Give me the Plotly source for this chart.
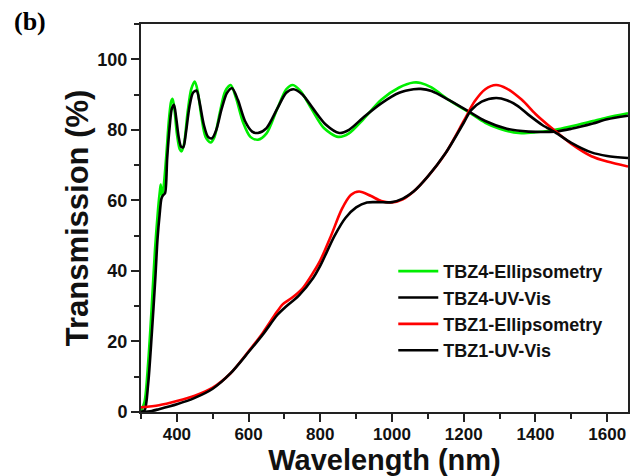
import plotly.graph_objects as go

# ---------------- data ----------------
tbz4_ell_wl = [300, 310, 320, 330, 339, 348, 353, 355, 358, 362, 370, 378, 384, 388, 393, 400, 408, 413,
               420, 430, 440, 450, 458, 468, 480, 494, 505, 520, 535, 550, 565, 585, 605, 626, 650, 680,
               705, 723, 745, 775, 810, 850, 880, 920, 970, 1020, 1060, 1080, 1110, 1158, 1214, 1260,
               1300, 1353, 1400, 1455, 1500, 1560, 1600, 1658]
tbz4_ell_t = [0.3, 3, 14, 30, 46, 58, 63, 64.5, 61.5, 63, 72, 83, 88, 88.8, 86, 79, 74.5, 73.9,
              76, 85, 91.5, 93.7, 91, 84, 78, 76.4, 78, 85, 91, 92.7, 89, 82, 78, 77.2, 79, 86,
              91.5, 92.7, 91, 86, 80.5, 78, 79, 83, 88.5, 92, 93.4, 93.3, 92, 88.5, 85, 82,
              80.3, 79.1, 79.3, 80, 81, 82.5, 83.5, 84.7]

tbz4_uv_wl = [300, 310, 320, 330, 340, 346, 352, 357, 362, 367, 373, 380, 386, 392, 398, 405, 412, 418,
              425, 435, 445, 455, 463, 475, 487, 498, 510, 525, 540, 554, 570, 590, 610, 626, 650, 680,
              705, 725, 750, 780, 815, 853, 880, 920, 970, 1020, 1060, 1080, 1110, 1158, 1214, 1260,
              1320, 1381, 1455, 1500, 1560, 1600, 1658]
tbz4_uv_t = [0, 0.5, 8, 22, 38, 49, 56, 60.5, 61.5, 62, 72, 81, 86, 87.1, 83.5, 78, 75.2, 75.1,
             79, 86.5, 90.5, 91.1, 88, 81.5, 78, 77.6, 80, 86, 90.5, 91.8, 88.5, 82.5, 79.5, 79.1, 80.5, 86,
             90.5, 91.5, 90, 86, 81.5, 79.1, 80, 83.5, 87.5, 90.5, 91.5, 91.6, 91, 88.5, 85.2, 82.5,
             80.3, 79.5, 79.5, 80.3, 81.8, 83, 84.0]

tbz1_ell_wl = [300, 350, 400, 450, 500, 550, 594, 640, 677, 695, 720, 750, 780, 800, 830, 860, 885, 908,
               940, 970, 1000, 1030, 1060, 1100, 1150, 1200, 1230, 1260, 1290, 1320, 1362, 1400, 1445,
               1500, 1556, 1600, 1658]
tbz1_ell_t = [1.3, 1.9, 3.1, 4.6, 6.9, 11, 16.4, 22.5, 28.1, 30.5, 32.3, 35, 39.5, 43, 50, 57.5, 61.5, 62.5,
              61.3, 59.8, 59.4, 60.3, 62.5, 66.8, 73.5, 82.5, 88, 91.5, 92.7, 91.7, 88.5, 84.5, 80.5,
              76, 72.5, 71, 69.6]

tbz1_uv_wl = [300, 330, 350, 400, 450, 500, 550, 600, 640, 680, 700, 740, 780, 800, 840, 870, 900, 930,
              960, 1000, 1030, 1060, 1100, 1150, 1200, 1220, 1250, 1290, 1320, 1350, 1380, 1420, 1455,
              1500, 1556, 1600, 1658]
tbz1_uv_t = [0, 0.3, 0.8, 2.2, 4, 6.6, 11, 17, 22, 27.5, 29.5, 33, 38, 41.5, 50, 55, 58, 59.4,
             59.5, 59.5, 60.5, 62.5, 66.8, 73.5, 82, 85.5, 88, 89, 88.4, 86.8, 84.3, 81.3, 79.3,
             76.3, 73.6, 72.6, 72]

series = [
    ("TBZ4-Ellipsometry", tbz4_ell_wl, tbz4_ell_t, "#00ee00"),
    ("TBZ4-UV-Vis", tbz4_uv_wl, tbz4_uv_t, "#000000"),
    ("TBZ1-Ellipsometry", tbz1_ell_wl, tbz1_ell_t, "#ff0000"),
    ("TBZ1-UV-Vis", tbz1_uv_wl, tbz1_uv_t, "#000000"),
]

fig = go.Figure()
for name, wl, t, col in series:
    fig.add_trace(go.Scatter(x=wl, y=t, mode="lines", name=name,
                             line=dict(color=col, width=2.6, shape="spline", smoothing=0.8)))

axcol = "#222222"
tickfont = dict(family="Liberation Sans, Arial", size=17, color="#111111", weight="bold")
ytickfont = dict(family="Liberation Sans, Arial", size=18, color="#111111", weight="bold")
xtitlefont = dict(family="Liberation Sans, Arial", size=29, color="#111111", weight="bold")
ytitlefont = dict(family="Liberation Sans, Arial", size=31, color="#111111", weight="bold")

fig.update_layout(
    width=632, height=476,
    margin=dict(l=141, r=2, t=24, b=64),
    paper_bgcolor="white", plot_bgcolor="white",
    showlegend=True,
    legend=dict(x=0.518, y=0.41, xanchor="left", yanchor="top",
                font=dict(family="Liberation Sans, Arial", size=18, color="#111111", weight="bold"),
                bgcolor="rgba(0,0,0,0)", tracegroupgap=0, itemwidth=40),
    xaxis=dict(range=[300, 1658], showgrid=False, zeroline=False,
               showline=True, linecolor=axcol, linewidth=2, mirror=True,
               ticks="outside", ticklen=8, tickwidth=2, tickcolor=axcol,
               tick0=400, dtick=200, tickfont=tickfont, ticklabelstandoff=-2,
               minor=dict(ticks="outside", ticklen=5, tickwidth=2, tickcolor=axcol, tick0=300, dtick=100),
               title=dict(text="Wavelength (nm)", font=xtitlefont, standoff=4)),
    yaxis=dict(range=[0, 110], showgrid=False, zeroline=False,
               showline=True, linecolor=axcol, linewidth=2, mirror=True,
               ticks="outside", ticklen=8, tickwidth=2, tickcolor=axcol,
               tickvals=[0, 20, 40, 60, 80, 100], tickfont=ytickfont,
               minor=dict(ticks="outside", ticklen=5, tickwidth=2, tickcolor=axcol, tickvals=[10, 30, 50, 70, 90, 110]),
               title=dict(text="Transmission (%)", font=ytitlefont, standoff=0)),
    annotations=[dict(text="(b)", xref="paper", yref="paper", x=-0.265, y=1.05,
                      xanchor="left", yanchor="top", showarrow=False,
                      font=dict(family="Liberation Serif, Times New Roman", size=26, color="#000000", weight="bold"))],
)

fig.write_html("out.html")
